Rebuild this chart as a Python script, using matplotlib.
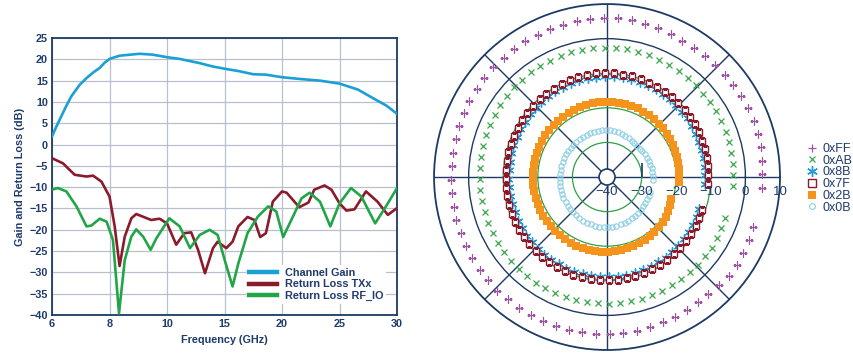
import numpy as np
import matplotlib
matplotlib.use('Agg')
import matplotlib.pyplot as plt
from matplotlib.patches import Circle
from matplotlib.markers import TICKUP

plt.rcParams['font.family'] = ['Liberation Sans', 'DejaVu Sans']
plt.rcParams['axes.unicode_minus'] = True

NAVY = '#1c3a63'
TXT = '#1f3b6e'
GRID = '#b9c0cc'

# --- left chart: gain and return loss vs frequency ---
freq_ticks = [6, 8, 10, 15, 20, 25, 30]

gain_f = [6.0, 6.15, 6.32, 6.5, 6.67, 6.96, 7.2, 7.43, 7.66, 7.83, 8.0, 8.35, 9.04, 9.5,
          10.0, 11.1, 12.85, 14.0, 15.0, 16.3, 17.5, 18.6, 20.0, 21.5, 23.3, 25.0, 26.6,
          27.9, 29.1, 30.0]
gain_db = [1.9, 4.2, 6.6, 9.1, 11.3, 14.0, 15.6, 16.9, 18.0, 19.2, 20.1, 20.85, 21.3, 21.1,
           20.5, 20.1, 19.1, 18.3, 17.8, 17.2, 16.5, 16.4, 15.8, 15.4, 15.0, 14.3, 12.9,
           10.9, 9.1, 7.2]

txx_f = [6.0, 6.38, 6.79, 7.2, 7.43, 7.72, 8.0, 8.18, 8.35, 8.53, 8.76, 8.93, 9.45, 9.74,
         10.0, 10.8, 11.5, 12.1, 12.7, 13.3, 14.0, 14.4, 15.15, 15.7, 16.2, 17.0, 17.6,
         18.1, 18.6, 19.2, 20.0, 20.4, 21.5, 22.3, 22.8, 23.7, 24.3, 25.0, 25.6, 26.3,
         27.3, 28.3, 29.2, 30.0]
txx_db = [-3.2, -4.4, -7.1, -7.5, -7.3, -8.7, -12.2, -19.2, -28.5, -21.6, -17.3, -16.3,
          -17.7, -17.4, -18.5, -23.5, -20.8, -20.6, -24.7, -30.2, -24.3, -22.8, -24.3,
          -22.8, -19.2, -17.0, -17.7, -21.7, -20.8, -13.4, -11.0, -11.3, -14.7, -13.6,
          -10.6, -9.6, -10.6, -13.8, -15.5, -15.2, -11.0, -13.4, -16.5, -14.9]

rf_f = [6.0, 6.2, 6.5, 6.85, 7.2, 7.37, 7.66, 7.9, 8.12, 8.33, 8.53, 8.76, 8.93, 9.17,
        9.43, 9.63, 10.2, 11.1, 12.0, 12.85, 13.7, 14.4, 15.1, 15.7, 16.2, 17.0, 17.9,
        18.8, 19.5, 20.1, 20.95, 21.7, 22.4, 23.3, 24.2, 25.0, 26.0, 26.9, 28.1, 29.2, 30.0]
rf_db = [-10.6, -10.2, -11.0, -14.5, -19.2, -19.0, -17.4, -18.1, -22.4, -39.6, -27.1,
         -21.6, -19.9, -21.6, -24.7, -22.0, -17.3, -19.2, -24.3, -21.2, -20.0, -21.2,
         -27.9, -33.3, -27.9, -20.8, -16.9, -14.5, -15.7, -21.7, -16.9, -12.6, -11.3,
         -13.4, -19.2, -13.8, -10.2, -12.2, -18.5, -13.8, -10.2]

# --- right chart: polar plot per gain code (phase in deg, magnitude in dB) ---
phase_deg = [-4, 1, 6, 11, 16, 21, 26, 31, 36, 41, 46, 51, 56, 61, 66, 71, 76, 81, 86, 91,
             96, 101, 106, 111, 116, 121, 126, 131, 136, 141, 146, 151, 156, 161, 166, 171,
             176, 181, 186, 191, 196, 201, 206, 211, 216, 221, 226, 231, 236, 241, 246, 251,
             256, 261, 266, 271, 276, 281, 286, 291, 296, 301, 306, 311, 316, 321, 326, 331,
             336, 341]

mag_ff = [5.0, 4.9, 5.1, 5.3, 5.5, 5.5, 5.4, 5.2, 5.1, 5.1,
          5.0, 5.0, 5.1, 5.0, 5.3, 5.5, 5.7, 5.9, 6.0, 6.0,
          5.9, 5.8, 5.8, 5.8, 5.7, 5.8, 5.7, 5.6, 5.7, 5.6,
          5.5, 5.5, 5.3, 5.2, 5.0, 5.0, 4.9, 5.0, 5.1, 5.2,
          5.3, 5.3, 5.4, 5.5, 5.5, 5.5, 5.6, 5.5, 5.5, 5.5,
          5.6, 5.5, 5.5, 5.5, 5.4, 5.4, 5.3, 5.2, 5.0, 5.0,
          4.9, 4.8, 4.7, 4.7, 5.0, 5.3, 5.4, 5.1, 4.8, 4.6]
mag_ab = [-3.6, -3.5, -3.5, -3.4, -3.4, -3.3, -3.3, -3.2, -3.2, -3.2,
          -3.1, -3.0, -3.0, -2.9, -2.9, -2.8, -2.7, -2.6, -2.6, -2.6,
          -2.6, -2.6, -2.5, -2.6, -2.6, -2.6, -2.6, -2.7, -2.6, -2.7,
          -2.8, -2.9, -3.0, -3.1, -3.1, -3.2, -3.2, -3.2, -3.2, -3.2,
          -3.2, -3.2, -3.2, -3.2, -3.2, -3.1, -3.2, -3.2, -3.2, -3.3,
          -3.3, -3.3, -3.3, -3.4, -3.4, -3.3, -3.4, -3.4, -3.4, -3.5,
          -3.5, -3.5, -3.5, -3.5, -3.6, -3.5, -3.5, -3.6, -3.8, -4.0]
mag_8b = [-11.5, -11.6, -11.5, -11.4, -11.4, -11.4, -11.3, -11.3, -11.2, -11.2,
          -11.2, -11.1, -11.1, -11.0, -11.0, -10.9, -10.9, -10.8, -10.8, -10.8,
          -10.8, -10.8, -10.9, -10.9, -11.0, -11.0, -11.1, -11.1, -11.2, -11.2,
          -11.3, -11.3, -11.4, -11.4, -11.5, -11.5, -11.5, -11.5, -11.4, -11.4,
          -11.4, -11.4, -11.3, -11.3, -11.2, -11.2, -11.2, -11.1, -11.1, -11.1,
          -11.0, -11.0, -11.0, -11.0, -11.0, -11.0, -11.0, -11.0, -11.1, -11.1,
          -11.1, -11.2, -11.2, -11.3, -11.3, -11.4, -11.4, -11.5, -11.6, -11.8]
mag_7f = [-10.7, -10.7, -10.6, -10.6, -10.5, -10.6, -10.5, -10.4, -10.4, -10.3,
          -10.3, -10.3, -10.2, -10.2, -10.1, -10.1, -10.0, -10.0, -9.9, -9.9,
          -9.9, -10.0, -10.0, -10.1, -10.1, -10.2, -10.2, -10.3, -10.3, -10.4,
          -10.4, -10.5, -10.5, -10.6, -10.6, -10.7, -10.7, -10.7, -10.6, -10.6,
          -10.6, -10.5, -10.5, -10.4, -10.4, -10.3, -10.3, -10.3, -10.2, -10.2,
          -10.2, -10.1, -10.1, -10.1, -10.1, -10.1, -10.1, -10.2, -10.2, -10.3,
          -10.3, -10.3, -10.4, -10.4, -10.5, -10.5, -10.6, -10.7, -10.8, -11.0]
mag_2b = [-19.2, -19.1, -19.0, -19.0, -18.9, -18.9, -18.8, -18.7, -18.6, -18.5,
          -18.5, -18.5, -18.4, -18.4, -18.3, -18.3, -18.3, -18.2, -18.2, -18.3,
          -18.3, -18.3, -18.3, -18.4, -18.4, -18.4, -18.5, -18.5, -18.5, -18.5,
          -18.5, -18.5, -18.6, -18.6, -18.6, -18.6, -18.6, -18.5, -18.5, -18.5,
          -18.5, -18.5, -18.4, -18.4, -18.4, -18.4, -18.3, -18.3, -18.3, -18.3,
          -18.3, -18.3, -18.3, -18.3, -18.3, -18.4, -18.4, -18.5, -18.6, -18.7,
          -18.8, -18.9, -19.0, -19.1, -19.2, -19.3, -19.5, -19.8, -20.1, -20.4]
mag_0b = [-26.8, -26.7, -26.8, -26.9, -27.0, -27.1, -27.2, -27.3, -27.4, -27.5,
          -27.5, -27.4, -27.3, -27.1, -26.9, -26.8, -26.6, -26.5, -26.4, -26.4,
          -26.4, -26.4, -26.4, -26.4, -26.5, -26.5, -26.5, -26.5, -26.5, -26.5,
          -26.5, -26.5, -26.4, -26.4, -26.4, -26.4, -26.4, -26.3, -26.3, -26.2,
          -26.2, -26.1, -26.0, -26.0, -25.9, -25.8, -25.8, -25.7, -25.6, -25.6,
          -25.5, -25.5, -25.5, -25.5, -25.5, -25.6, -25.6, -25.7, -25.8, -25.9,
          -26.0, -26.1, -26.2, -26.3, -26.4, -26.5, -26.6, -26.7, -26.8, -27.0]

r_ticks = [-40, -30, -20, -10, 0, 10]


def fwd(f):
    return np.interp(f, freq_ticks, np.arange(len(freq_ticks)))


def inv(p):
    return np.interp(p, np.arange(len(freq_ticks)), freq_ticks)


fig = plt.figure(figsize=(8.54, 3.53), dpi=100)

# ---------------- left: gain / return loss ----------------
ax = fig.add_axes([0.0609, 0.1076, 0.404, 0.7847])
ax.set_xscale('function', functions=(fwd, inv))
ax.plot(gain_f, gain_db, color='#1aa0d6', lw=1.9, label='Channel Gain', zorder=3,
        solid_joinstyle='round')
ax.plot(txx_f, txx_db, color='#8b1a2b', lw=1.9, label='Return Loss TXx', zorder=3,
        solid_joinstyle='round')
ax.plot(rf_f, rf_db, color='#22a548', lw=1.9, label='Return Loss RF_IO', zorder=3,
        solid_joinstyle='round')
ax.set_xlim(6, 30)
ax.set_ylim(-40, 25)
ax.set_xticks(freq_ticks)
ax.set_xticklabels([str(t) for t in freq_ticks])
ax.set_yticks(range(-40, 26, 5))
ax.grid(True, color=GRID, lw=0.9)
ax.set_axisbelow(True)
for s in ax.spines.values():
    s.set_color(NAVY)
    s.set_linewidth(1.3)
ax.tick_params(length=0, pad=3, labelsize=7.8, labelcolor=TXT)
for lab in ax.get_xticklabels() + ax.get_yticklabels():
    lab.set_fontweight('bold')
ax.set_xlabel('Frequency (GHz)', fontsize=7.8, fontweight='bold', color=TXT, labelpad=4)
ax.set_ylabel('Gain and Return Loss (dB)', fontsize=7.8, fontweight='bold', color=TXT,
              labelpad=3)
leg = ax.legend(loc='lower right', bbox_to_anchor=(0.985, 0.02), frameon=True,
                facecolor='white', edgecolor='none', framealpha=1, fancybox=False,
                handlelength=2.6, handletextpad=0.7, labelspacing=0.12, borderpad=0.3,
                prop={'size': 7.8, 'weight': 'bold'}, labelcolor=TXT)
for h in leg.get_lines():
    h.set_linewidth(3.2)

# ---------------- right: polar ----------------
pax = fig.add_axes([0.5082, 0.0085, 0.4052, 0.980], projection='polar')
pax.set_ylim(-40, 10)
pax.set_yticks([-30, -20, -10, 0])
pax.set_yticklabels([])
pax.set_xticks(np.deg2rad(range(0, 360, 45)))
pax.set_xticklabels([])
pax.grid(True)
for gl, c in zip(pax.yaxis.get_gridlines(), ['#2ca046', '#2ca046', '#2ca046', NAVY]):
    gl.set_color(c)
    gl.set_linewidth(1.0 if c == NAVY else 0.9)
    gl.set_linestyle('-')
for gl in pax.xaxis.get_gridlines():
    gl.set_color(NAVY)
    gl.set_linewidth(1.0)
    gl.set_linestyle('-')
pax.spines['polar'].set_color(NAVY)
pax.spines['polar'].set_linewidth(1.3)
pax.tick_params(length=0)

th = np.deg2rad(phase_deg)
h_ff, = pax.plot(th, mag_ff, ls='none', marker='+', ms=5.5, mew=0.9, color='#9d55a3',
                 label='0xFF', zorder=4)
h_ab, = pax.plot(th, mag_ab, ls='none', marker='x', ms=4.2, mew=0.9, color='#3aa74a',
                 label='0xAB', zorder=4)
h_8b, = pax.plot(th, mag_8b, ls='none', marker=(6, 2, 0), ms=7, mew=1.0, color='#1f9ad6',
                 label='0x8B', zorder=4)
h_7f, = pax.plot(th, mag_7f, ls='none', marker='s', ms=4.8, mew=1.0, mfc='white',
                 mec='#8b1a2b', label='0x7F', zorder=5)
h_2b, = pax.plot(th, mag_2b, ls='none', marker='s', ms=5.2, mew=0, color='#f5941d',
                 label='0x2B', zorder=4)
h_0b, = pax.plot(th, mag_0b, ls='none', marker='o', ms=3.8, mew=0.8, mfc='none',
                 mec='#8ccfe4', label='0x0B', zorder=4)

# centre hole and small tick marks on the 0 deg axis
pax.add_patch(Circle((0.5, 0.5), 8 / 346, transform=pax.transAxes, fc='white', ec=NAVY,
                     lw=1.2, zorder=6))
pax.plot(np.zeros(3), [-30, -20, -10], ls='none', marker=TICKUP, ms=10, mew=1.2,
         color=NAVY, zorder=3)
for r in r_ticks:
    pax.annotate(str(r).replace('-', '\u2212'), xy=(0, r), xytext=(0, -15),
                 textcoords='offset pixels', ha='center', va='center', fontsize=9.5,
                 color=TXT, annotation_clip=False, zorder=7)

fig.legend(handles=[h_ff, h_ab, h_8b, h_7f, h_2b, h_0b], loc='upper left',
           bbox_to_anchor=(806 / 854, 1 - 143 / 353), frameon=False, fontsize=9,
           handlelength=1.0, handletextpad=0.35, labelspacing=-0.02, borderpad=0,
           borderaxespad=0, labelcolor=TXT, markerscale=1.1)

fig.savefig('out.png', dpi=100)
